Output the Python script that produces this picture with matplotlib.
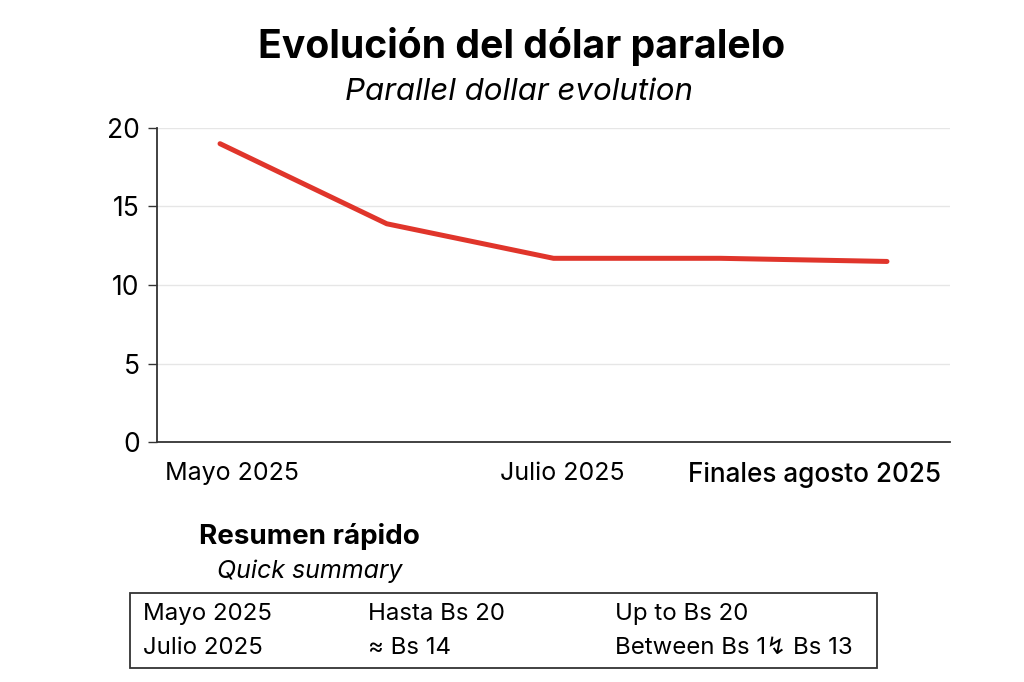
import matplotlib
matplotlib.use("Agg")
import matplotlib.pyplot as plt
import matplotlib.transforms as mtransforms
from matplotlib.patches import Rectangle

plt.rcParams['font.family'] = ['Inter', 'DejaVu Sans']

# Data
periods = ["Mayo 2025", "", "Julio 2025", "", "Finales agosto 2025"]
rates = [19.0, 13.9, 11.7, 11.7, 11.5]
tick_labels = ["Mayo 2025", "Julio 2025", "Finales agosto 2025"]
tick_idx = [0, 2, 4]
yticks = [0, 5, 10, 15, 20]

summary_rows = [
    ["Mayo 2025", "Hasta Bs 20", "Up to Bs 20"],
    ["Julio 2025", "\u2248 Bs 14", "Between Bs 1\u21af Bs 13"],
]

W, H = 1024, 682
fig = plt.figure(figsize=(W / 100, H / 100), dpi=100)
ax = fig.add_axes([157 / W, 1 - 442 / H, (950 - 157) / W, (442 - 128) / H])

x = list(range(len(rates)))
ax.plot(x, rates, color="#e0352b", lw=3.6, solid_capstyle="round", solid_joinstyle="round", zorder=3)
ax.set_xlim(-0.378, 4.378)
ax.set_ylim(0, 20)
ax.set_yticks(yticks)
ax.set_yticklabels([str(v) for v in yticks], fontsize=19)
ax.tick_params(axis="y", length=6.5, width=1, color="#333333", pad=6)
ax.grid(axis="y", color="#e6e6e6", lw=1)
ax.set_axisbelow(True)
for s in ["top", "right"]:
    ax.spines[s].set_visible(False)
for s in ["left", "bottom"]:
    ax.spines[s].set_color("#333333")
    ax.spines[s].set_linewidth(1.3)

ax.set_xticks(tick_idx)
ax.set_xticklabels(tick_labels, fontsize=18)
ax.tick_params(axis="x", length=0, pad=14.5)
offsets = [12, 9, -72]
for lab, dx in zip(ax.get_xticklabels(), offsets):
    lab.set_transform(lab.get_transform() + mtransforms.ScaledTranslation(dx / 100, 0, fig.dpi_scale_trans))
ax.get_xticklabels()[-1].set_fontweight("medium")
ax.get_xticklabels()[-1].set_fontsize(18.8)

# Titles
fig.text(522 / W, 1 - 47 / H, "Evoluci\u00f3n del d\u00f3lar paralelo", ha="center", va="center",
         fontsize=28.2, fontweight="bold")
fig.text(519 / W, 1 - 92 / H, "Parallel dollar evolution", ha="center", va="center",
         fontsize=22.5, style="italic")

# Summary
fig.text(309 / W, 1 - 537 / H, "Resumen r\u00e1pido", ha="center", va="center", fontsize=20, fontweight="bold")
fig.text(310 / W, 1 - 571 / H, "Quick summary", ha="center", va="center", fontsize=18, style="italic")

fig.patches.append(Rectangle((130 / W, 1 - 668 / H), (877 - 130) / W, (668 - 593) / H,
                             transform=fig.transFigure, fill=False, edgecolor="#333333", lw=1.3))
col_x = [143, 368, 615]
row_y = [614, 648]
for r, row in enumerate(summary_rows):
    for c, txt in enumerate(row):
        fig.text(col_x[c] / W, 1 - row_y[r] / H, txt, ha="left", va="center", fontsize=17.3)

fig.savefig("out.png", dpi=100, facecolor="white")
